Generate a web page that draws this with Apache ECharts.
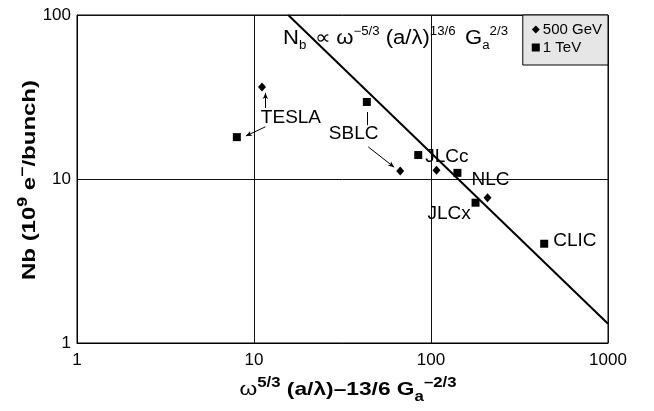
<!DOCTYPE html>
<html>
<head>
<meta charset="utf-8">
<script src="https://cdn.jsdelivr.net/npm/echarts@6/dist/echarts.min.js"></script>
<style>
  html, body { margin: 0; padding: 0; background: #fff; }
  #chart { width: 654px; height: 411px; }
</style>
</head>
<body>
<div id="chart"></div>
<script>
// Linear-collider design points: bunch population vs. the scaling parameter
const xTicks = [1, 10, 100, 1000];
const yTicks = [1, 10, 100];

// 500 GeV designs
const names500 = ['TESLA', 'SBLC', 'JLC', 'NLC'];
const x500 = [11.1, 67.0, 107.4, 208.6];
const y500 = [36.4, 11.2, 11.3, 7.69];

// 1 TeV designs
const names1TeV = ['TESLA', 'SBLC', 'JLCc', 'NLC', 'JLCx', 'CLIC'];
const x1TeV = [8.0, 43.4, 84.7, 141, 178.5, 436];
const y1TeV = [18.0, 29.5, 14.0, 10.9, 7.17, 4.03];

// Scaling law N_b ∝ ω^-5/3 (a/λ)^13/6 G_a^2/3
const scalingX = [15.6, 1000];
const scalingY = [100, 1.31];

// Leader lines from the design labels to their points
const leaderFrom = [[11.6, 27.1], [11.6, 20.8], [43.6, 25.6], [44.2, 15.7]];
const leaderTo   = [[11.6, 33.5], [9.0, 18.3], [43.6, 21.3], [61.9, 11.8]];
const leaderArrow = [true, true, false, true];

// Label placement (left-middle anchor, relative to the marker centre)
const labelOffset = {
  TESLA: [24, -19], SBLC: [-38, 32], JLCc: [7, 2], NLC: [14, 7], JLCx: [-48, 11], CLIC: [9, -3]
};

const FONT = '"Liberation Sans", Arial, Helvetica, sans-serif';

// ---- small typesetter for formulas with super/subscripts ----
const measureCtx = document.createElement('canvas').getContext('2d');
function fontOf(p) {
  return (p.weight || 'normal') + ' ' + p.size + 'px ' + FONT;
}
function measure(p) {
  measureCtx.font = fontOf(p);
  return measureCtx.measureText(p.t).width;
}
// pieces: {t, size, weight, shift}; shift < 0 raises (superscript), > 0 lowers (subscript)
function typeset(pieces) {
  let x = 0;
  const children = pieces.map(p => {
    const el = {
      type: 'text',
      x: x,
      y: (p.shift || 0) - 0.33 * p.size,
      style: { text: p.t, font: fontOf(p), fill: '#000', align: 'left', verticalAlign: 'middle' }
    };
    x += measure(p) + (p.gap || 0);
    return el;
  });
  return { children, width: x };
}
function centred(pieces, cx, baseline, targetWidth, rotation, z) {
  const t = typeset(pieces);
  const sx = targetWidth ? targetWidth / t.width : 1;
  t.children.forEach(c => { c.x -= t.width / 2; });
  return { type: 'group', x: cx, y: baseline, rotation: rotation || 0, scaleX: sx, z: z || 0, children: t.children };
}
function leftAligned(pieces, left, baseline, targetWidth, z) {
  const t = typeset(pieces);
  const sx = targetWidth ? targetWidth / t.width : 1;
  return { type: 'group', x: left, y: baseline, scaleX: sx, z: z || 0, children: t.children };
}

const M = 20, S = 12;
const formulaPieces = [
  { t: 'N', size: M }, { t: 'b', size: S, shift: 5, gap: 2 },
  { t: ' ∝ ω', size: M }, { t: '−5/3', size: S, shift: -9 },
  { t: ' (a/λ)', size: M }, { t: '13/6', size: S, shift: -9, gap: 3 },
  { t: ' G', size: M }, { t: 'a', size: S, shift: 5 }, { t: '2/3', size: S, shift: -9 }
];
const xTitlePieces = [
  { t: 'ω', size: 19 }, { t: '5/3', size: 14, weight: 'bold', shift: -8 },
  { t: ' (a/λ)–13/6 G', size: 19, weight: 'bold' },
  { t: 'a', size: 14, weight: 'bold', shift: 6 }, { t: '–2/3', size: 14, weight: 'bold', shift: -8 }
];
const yTitlePieces = [
  { t: 'Nb (10', size: 19, weight: 'bold' }, { t: '9', size: 14, weight: 'bold', shift: -8 },
  { t: ' e', size: 19, weight: 'bold' }, { t: '−', size: 14, weight: 'bold', shift: -8 },
  { t: '/bunch)', size: 19, weight: 'bold' }
];

const chart = echarts.init(document.getElementById('chart'), null, { renderer: 'canvas' });

const pts500 = x500.map((x, i) => ({ name: names500[i], value: [x, y500[i]] }));
const pts1TeV = x1TeV.map((x, i) => ({
  name: names1TeV[i],
  value: [x, y1TeV[i]],
  label: {
    show: true,
    position: 'inside',
    align: 'left',
    verticalAlign: 'middle',
    offset: labelOffset[names1TeV[i]],
    formatter: '{b}',
    color: '#000',
    textBorderWidth: 0,
    fontFamily: FONT,
    fontSize: 19
  }
}));

const leaders = leaderFrom.map((p, i) => [
  { coord: p, symbol: 'none' },
  { coord: leaderTo[i], symbol: leaderArrow[i] ? 'arrow' : 'none', symbolSize: [4, 6] }
]);

chart.setOption({
  animation: false,
  backgroundColor: '#fff',
  grid: {
    left: 77, right: 46, top: 15, bottom: 68,
    show: true, borderColor: '#000', borderWidth: 1, backgroundColor: 'transparent'
  },
  legend: {
    orient: 'vertical',
    right: 46, top: 15,
    align: 'left',
    backgroundColor: '#e6e6e6',
    borderColor: '#000', borderWidth: 1, borderRadius: 0,
    padding: [7, 6, 10, 9],
    itemGap: 3,
    itemWidth: 8, itemHeight: 8,
    textStyle: { fontFamily: FONT, fontSize: 15, color: '#000', padding: [0, 0, 0, -2] },
    data: [
      { name: '500 GeV', icon: 'diamond' },
      { name: '1 TeV', icon: 'rect' }
    ]
  },
  xAxis: {
    type: 'log', logBase: 10, min: xTicks[0], max: xTicks[xTicks.length - 1],
    axisLine: { show: true, lineStyle: { color: '#000', width: 1 } },
    axisTick: { show: false },
    axisLabel: {
      margin: 9, color: '#000', fontFamily: FONT, fontSize: 17,
      formatter: v => String(Math.round(v))
    },
    splitLine: { show: true, lineStyle: { color: '#111', width: 1 } }
  },
  yAxis: {
    type: 'log', logBase: 10, min: yTicks[0], max: yTicks[yTicks.length - 1],
    axisLine: { show: true, lineStyle: { color: '#000', width: 1 } },
    axisTick: { show: false },
    axisLabel: {
      margin: 6, color: '#000', fontFamily: FONT, fontSize: 17,
      formatter: v => String(Math.round(v))
    },
    splitLine: { show: true, lineStyle: { color: '#111', width: 1 } }
  },
  graphic: [
    leftAligned(formulaPieces, 283, 45, 225, -10),
    centred(xTitlePieces, 348, 396, 217),
    centred(yTitlePieces, 36, 180, 200, Math.PI / 2)
  ],
  series: [
    {
      name: 'scaling',
      type: 'line',
      data: scalingX.map((x, i) => [x, scalingY[i]]),
      symbol: 'none',
      lineStyle: { color: '#000', width: 2 },
      z: 3,
      markLine: {
        silent: true,
        symbol: ['none', 'arrow'],
        label: { show: false },
        lineStyle: { color: '#000', width: 1, type: 'solid' },
        data: leaders
      }
    },
    {
      name: '500 GeV',
      type: 'scatter',
      symbol: 'diamond',
      symbolSize: [8, 9],
      itemStyle: { color: '#000', opacity: 1 },
      data: pts500,
      z: 4
    },
    {
      name: '1 TeV',
      type: 'scatter',
      symbol: 'rect',
      symbolSize: 8,
      itemStyle: { color: '#000', opacity: 1 },
      data: pts1TeV,
      z: 4
    }
  ]
});
</script>
</body>
</html>
